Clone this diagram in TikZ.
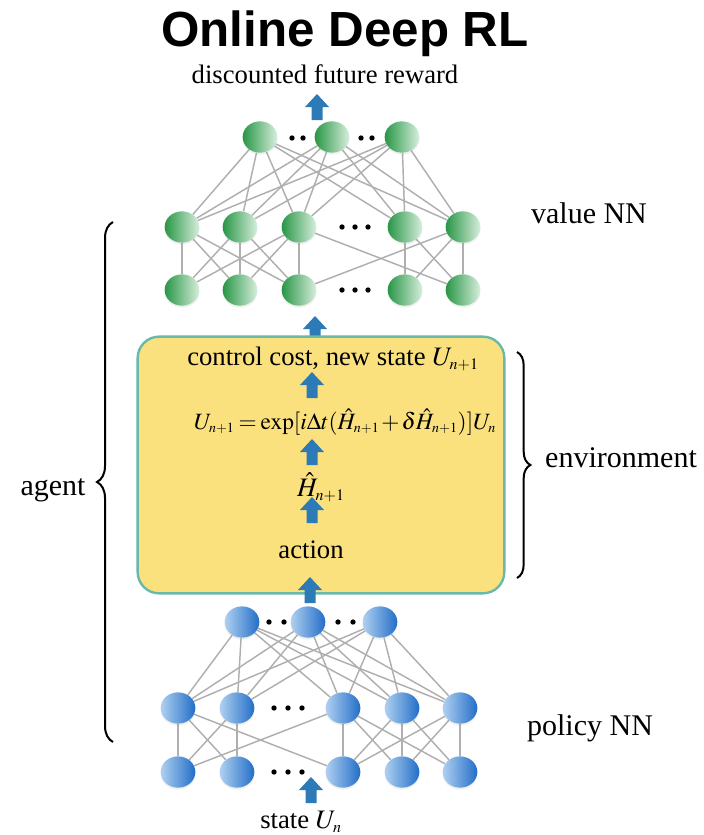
\documentclass[tikz,border=0pt]{standalone}
\usepackage{mathptmx}
\usepackage[no-math]{fontspec}
\setmainfont{Liberation Serif}
\newfontfamily\titlefont{Liberation Sans}
\usetikzlibrary{shapes.geometric,decorations.pathreplacing,shadows,backgrounds}
\definecolor{gdark}{RGB}{40,150,70}
\definecolor{glight}{RGB}{215,238,220}
\definecolor{blight}{RGB}{175,208,240}
\definecolor{bdark}{RGB}{35,110,200}
\definecolor{arrblue}{RGB}{44,123,182}
\definecolor{boxfill}{RGB}{250,225,125}
\definecolor{boxline}{RGB}{105,185,170}
\definecolor{edgegray}{RGB}{175,175,175}
\newcommand{\sbs}[1]{_{\scriptscriptstyle #1}}
\begin{document}
\begin{tikzpicture}[x=0.75pt,y=-0.75pt,
  nn/.style={ellipse, minimum width=26pt, minimum height=23.5pt, inner sep=0pt, draw=none,
    drop shadow={opacity=0.12, shadow xshift=0pt, shadow yshift=-1.5pt}},
  gnode/.style={nn, left color=gdark, right color=glight},
  bnode/.style={nn, left color=blight, right color=bdark},
  edge/.style={draw=edgegray, line width=1.1pt},
  lbl/.style={font=\fontsize{20}{24}\selectfont, inner sep=0pt, anchor=base},
  biglbl/.style={font=\fontsize{22.5}{27}\selectfont, inner sep=0pt, anchor=base},
  dotm/.style={circle, fill=black, inner sep=0pt, minimum size=4pt},
  uparr/.pic={\fill[arrblue] (-5.5,0) -- (-5.5,-13) -- (-12,-13) -- (0,-26) -- (12,-13) -- (5.5,-13) -- (5.5,0) -- cycle;},
  bracestyle/.style={decorate, line width=1.5pt}
]
\useasboundingbox (0,0) rectangle (703,835);

% title
\node[inner sep=0pt, anchor=base, font=\titlefont\bfseries\fontsize{37}{40}\selectfont] (title) at (345,46) {Online Deep RL};
\node[lbl] (reward) at (325,83) {discounted future reward};
\pic at (317,120) {uparr};

% value NN (green)
\foreach \i/\x in {1/260,2/332,3/402} \node[gnode] (gt\i) at (\x,137) {};
\foreach \i/\x in {1/182,2/240,3/299,4/405,5/463} {
  \node[gnode] (gm\i) at (\x,227) {};
  \node[gnode] (gb\i) at (\x,290) {};
}
\foreach \x in {292,303,361,372} \node[dotm] at (\x,138) {};
\foreach \x in {342,355,368} {\node[dotm] at (\x,227) {}; \node[dotm] at (\x,290) {};}
\node[biglbl] (valuenn) at (589,223) {value NN};

\begin{scope}[on background layer]
  \foreach \a in {1,2,3} \foreach \b in {1,...,5} \draw[edge] (gt\a) -- (gm\b);
  \foreach \a in {1,2,3} \foreach \b in {1,2,3} \draw[edge] (gm\a) -- (gb\b);
  \foreach \a in {4,5} \foreach \b in {4,5} \draw[edge] (gm\a) -- (gb\b);
  \draw[edge] (gm3) -- (gb5);
  \draw[edge] (gb3) -- (gm5);
\end{scope}

\pic at (315,342) {uparr};

% environment box
\node[draw=boxline, fill=boxfill, line width=1.8pt, rounded corners=16pt, minimum width=275pt, minimum height=192.5pt, inner sep=0pt] (envbox) at (321,465) {};
\node[lbl] (ctrl) at (333,365) {control cost, new state $U\sbs{n+1}$};
\pic at (312,398) {uparr};
\node[lbl, font=\fontsize{17.5}{21}\selectfont] (eq) at (345,429)
  {\medmuskip=1.5mu\thickmuskip=3mu$U\sbs{n+1}=\exp[i\Delta t(\hat{H}\sbs{n+1}+\delta\hat{H}\sbs{n+1})]U\sbs{n}$};
\pic at (312,465) {uparr};
\node[lbl] (hn) at (321,496) {$\hat{H}\sbs{n+1}$};
\pic at (312,523) {uparr};
\node[lbl] (action) at (311,558) {action};
\pic at (310,603) {uparr};

% policy NN (blue)
\foreach \i/\x in {1/242,2/308,3/380} \node[bnode] (bt\i) at (\x,622) {};
\foreach \i/\x in {1/178,2/237,3/343,4/402,5/460} {
  \node[bnode] (bm\i) at (\x,708) {};
  \node[bnode] (bb\i) at (\x,772) {};
}
\foreach \x in {269,284,338,353} \node[dotm] at (\x,622) {};
\foreach \x in {274,288,302} {\node[dotm] at (\x,708) {}; \node[dotm] at (\x,772) {};}
\node[biglbl] (policynn) at (590,735) {policy NN};

\begin{scope}[on background layer]
  \foreach \a in {1,2,3} \foreach \b in {1,...,5} \draw[edge] (bt\a) -- (bm\b);
  \foreach \a in {1,2} \foreach \b in {1,2} \draw[edge] (bm\a) -- (bb\b);
  \foreach \a in {3,4,5} \foreach \b in {3,4,5} \draw[edge] (bm\a) -- (bb\b);
  \draw[edge] (bm1) -- (bb3);
  \draw[edge] (bm3) -- (bb1);
\end{scope}

\pic at (311,803) {uparr};
\node[lbl] (state) at (301,828) {state $U\sbs{n}$};

% braces
\coordinate (agbot) at (113,742);
\coordinate (agtop) at (113,222);
\draw[bracestyle, decoration={brace, amplitude=12pt}] (agbot) -- (agtop);
\node[biglbl] (agent) at (53,495) {agent};
\coordinate (envtop) at (517,352);
\coordinate (envbot) at (517,578);
\draw[bracestyle, decoration={brace, amplitude=10pt}] (envtop) -- (envbot);
\node[biglbl] (envlabel) at (621,467) {environment};
\end{tikzpicture}
\end{document}
